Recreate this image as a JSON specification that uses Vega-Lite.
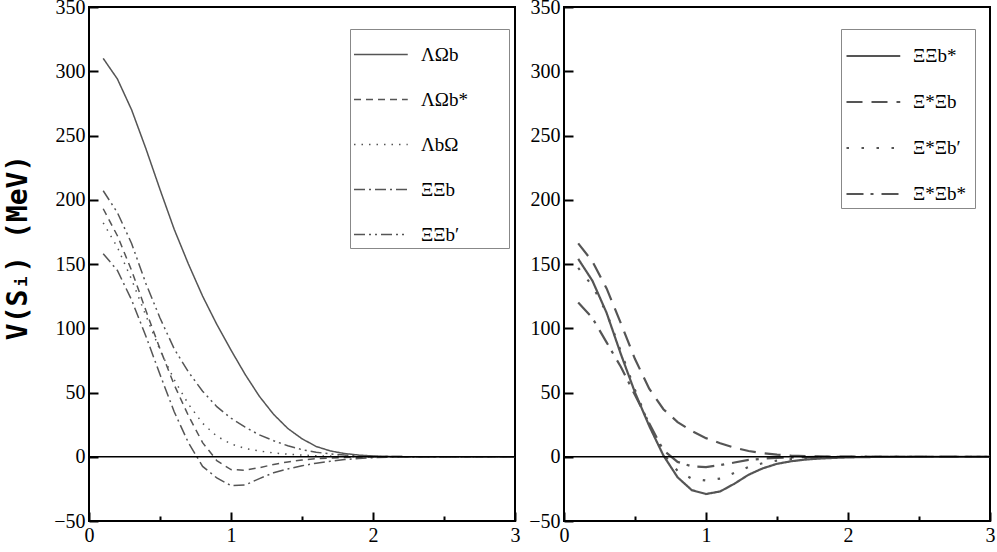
{
  "$schema": "https://vega.github.io/schema/vega-lite/v6.json",
  "padding": {"left": 3, "top": -4, "right": 5, "bottom": 5},
  "background": "white",
  "spacing": 49,
  "bounds": "flush",
  "config": {
    "view": {"stroke": "black", "strokeWidth": 2},
    "axis": {
      "domain": false, "ticks": true, "tickColor": "black", "tickWidth": 2, "tickOpacity": 1, "zindex": 1,
      "tickSize": 9, "offset": -9, "labelPadding": 4,
      "labelFont": "Liberation Serif", "labelFontSize": 20, "labelColor": "black",
      "grid": false, "labelOverlap": false, "labelFlush": false, "labelBound": false
    }
  },
  "datasets": {
    "left": [
      {"s":"ΛΩb","x":0.1,"v":310},{"s":"ΛΩb","x":0.2,"v":294},{"s":"ΛΩb","x":0.3,"v":270},{"s":"ΛΩb","x":0.4,"v":240},{"s":"ΛΩb","x":0.5,"v":208},{"s":"ΛΩb","x":0.6,"v":177},{"s":"ΛΩb","x":0.7,"v":150},{"s":"ΛΩb","x":0.8,"v":125},{"s":"ΛΩb","x":0.9,"v":103},{"s":"ΛΩb","x":1.0,"v":83},{"s":"ΛΩb","x":1.1,"v":64},{"s":"ΛΩb","x":1.2,"v":47},{"s":"ΛΩb","x":1.3,"v":33},{"s":"ΛΩb","x":1.4,"v":22},{"s":"ΛΩb","x":1.5,"v":14},{"s":"ΛΩb","x":1.6,"v":8},{"s":"ΛΩb","x":1.7,"v":4.5},{"s":"ΛΩb","x":1.8,"v":2.5},{"s":"ΛΩb","x":1.9,"v":1.3},{"s":"ΛΩb","x":2.0,"v":0.6},{"s":"ΛΩb","x":2.1,"v":0.3},{"s":"ΛΩb","x":2.2,"v":0.1},{"s":"ΛΩb","x":2.5,"v":0},{"s":"ΛΩb","x":3.0,"v":0},
      {"s":"ΛΩb*","x":0.1,"v":193},{"s":"ΛΩb*","x":0.2,"v":172},{"s":"ΛΩb*","x":0.3,"v":145},{"s":"ΛΩb*","x":0.4,"v":114},{"s":"ΛΩb*","x":0.5,"v":84},{"s":"ΛΩb*","x":0.6,"v":56},{"s":"ΛΩb*","x":0.7,"v":32},{"s":"ΛΩb*","x":0.8,"v":11},{"s":"ΛΩb*","x":0.9,"v":-3},{"s":"ΛΩb*","x":1.0,"v":-10},{"s":"ΛΩb*","x":1.1,"v":-10.5},{"s":"ΛΩb*","x":1.2,"v":-8.5},{"s":"ΛΩb*","x":1.3,"v":-6},{"s":"ΛΩb*","x":1.4,"v":-4},{"s":"ΛΩb*","x":1.5,"v":-2.5},{"s":"ΛΩb*","x":1.6,"v":-1.5},{"s":"ΛΩb*","x":1.7,"v":-1},{"s":"ΛΩb*","x":1.8,"v":-0.5},{"s":"ΛΩb*","x":1.9,"v":-0.3},{"s":"ΛΩb*","x":2.0,"v":-0.1},{"s":"ΛΩb*","x":2.2,"v":0},{"s":"ΛΩb*","x":2.5,"v":0},{"s":"ΛΩb*","x":3.0,"v":0},
      {"s":"ΛbΩ","x":0.1,"v":182},{"s":"ΛbΩ","x":0.2,"v":163},{"s":"ΛbΩ","x":0.3,"v":138},{"s":"ΛbΩ","x":0.4,"v":110},{"s":"ΛbΩ","x":0.5,"v":83},{"s":"ΛbΩ","x":0.6,"v":60},{"s":"ΛbΩ","x":0.7,"v":41},{"s":"ΛbΩ","x":0.8,"v":26},{"s":"ΛbΩ","x":0.9,"v":16},{"s":"ΛbΩ","x":1.0,"v":10},{"s":"ΛbΩ","x":1.1,"v":6.5},{"s":"ΛbΩ","x":1.2,"v":4.5},{"s":"ΛbΩ","x":1.3,"v":3},{"s":"ΛbΩ","x":1.4,"v":2},{"s":"ΛbΩ","x":1.5,"v":1.3},{"s":"ΛbΩ","x":1.6,"v":0.8},{"s":"ΛbΩ","x":1.7,"v":0.5},{"s":"ΛbΩ","x":1.8,"v":0.3},{"s":"ΛbΩ","x":1.9,"v":0.2},{"s":"ΛbΩ","x":2.0,"v":0.1},{"s":"ΛbΩ","x":2.2,"v":0},{"s":"ΛbΩ","x":2.5,"v":0},{"s":"ΛbΩ","x":3.0,"v":0},
      {"s":"ΞΞb","x":0.1,"v":158},{"s":"ΞΞb","x":0.2,"v":145},{"s":"ΞΞb","x":0.3,"v":122},{"s":"ΞΞb","x":0.4,"v":94},{"s":"ΞΞb","x":0.5,"v":64},{"s":"ΞΞb","x":0.6,"v":35},{"s":"ΞΞb","x":0.7,"v":11},{"s":"ΞΞb","x":0.8,"v":-7.5},{"s":"ΞΞb","x":0.9,"v":-16.5},{"s":"ΞΞb","x":1.0,"v":-22.5},{"s":"ΞΞb","x":1.1,"v":-22},{"s":"ΞΞb","x":1.2,"v":-17},{"s":"ΞΞb","x":1.3,"v":-12.5},{"s":"ΞΞb","x":1.4,"v":-9.5},{"s":"ΞΞb","x":1.5,"v":-7},{"s":"ΞΞb","x":1.6,"v":-5},{"s":"ΞΞb","x":1.7,"v":-3.5},{"s":"ΞΞb","x":1.8,"v":-2.2},{"s":"ΞΞb","x":1.9,"v":-1.3},{"s":"ΞΞb","x":2.0,"v":-0.7},{"s":"ΞΞb","x":2.1,"v":-0.3},{"s":"ΞΞb","x":2.2,"v":-0.1},{"s":"ΞΞb","x":2.5,"v":0},{"s":"ΞΞb","x":3.0,"v":0},
      {"s":"ΞΞb′","x":0.1,"v":207},{"s":"ΞΞb′","x":0.2,"v":190},{"s":"ΞΞb′","x":0.3,"v":166},{"s":"ΞΞb′","x":0.4,"v":135},{"s":"ΞΞb′","x":0.5,"v":108},{"s":"ΞΞb′","x":0.6,"v":84},{"s":"ΞΞb′","x":0.7,"v":66},{"s":"ΞΞb′","x":0.8,"v":51},{"s":"ΞΞb′","x":0.9,"v":39},{"s":"ΞΞb′","x":1.0,"v":30},{"s":"ΞΞb′","x":1.1,"v":23},{"s":"ΞΞb′","x":1.2,"v":17},{"s":"ΞΞb′","x":1.3,"v":12.5},{"s":"ΞΞb′","x":1.4,"v":8.5},{"s":"ΞΞb′","x":1.5,"v":5.5},{"s":"ΞΞb′","x":1.6,"v":3.5},{"s":"ΞΞb′","x":1.7,"v":2.2},{"s":"ΞΞb′","x":1.8,"v":1.3},{"s":"ΞΞb′","x":1.9,"v":0.7},{"s":"ΞΞb′","x":2.0,"v":0.3},{"s":"ΞΞb′","x":2.2,"v":0.1},{"s":"ΞΞb′","x":2.5,"v":0},{"s":"ΞΞb′","x":3.0,"v":0}
    ],
    "right": [
      {"s":"ΞΞb*","x":0.1,"v":154},{"s":"ΞΞb*","x":0.2,"v":137},{"s":"ΞΞb*","x":0.3,"v":112},{"s":"ΞΞb*","x":0.4,"v":80},{"s":"ΞΞb*","x":0.5,"v":50},{"s":"ΞΞb*","x":0.6,"v":24},{"s":"ΞΞb*","x":0.7,"v":1},{"s":"ΞΞb*","x":0.8,"v":-16},{"s":"ΞΞb*","x":0.9,"v":-26},{"s":"ΞΞb*","x":1.0,"v":-29},{"s":"ΞΞb*","x":1.1,"v":-27},{"s":"ΞΞb*","x":1.2,"v":-21},{"s":"ΞΞb*","x":1.3,"v":-14},{"s":"ΞΞb*","x":1.4,"v":-9},{"s":"ΞΞb*","x":1.5,"v":-5.5},{"s":"ΞΞb*","x":1.6,"v":-3.5},{"s":"ΞΞb*","x":1.7,"v":-2.2},{"s":"ΞΞb*","x":1.8,"v":-1.4},{"s":"ΞΞb*","x":1.9,"v":-0.9},{"s":"ΞΞb*","x":2.0,"v":-0.5},{"s":"ΞΞb*","x":2.1,"v":-0.3},{"s":"ΞΞb*","x":2.2,"v":-0.15},{"s":"ΞΞb*","x":2.5,"v":0},{"s":"ΞΞb*","x":3.0,"v":0},
      {"s":"Ξ*Ξb","x":0.1,"v":166},{"s":"Ξ*Ξb","x":0.2,"v":152},{"s":"Ξ*Ξb","x":0.3,"v":131},{"s":"Ξ*Ξb","x":0.4,"v":104},{"s":"Ξ*Ξb","x":0.5,"v":76},{"s":"Ξ*Ξb","x":0.6,"v":53},{"s":"Ξ*Ξb","x":0.7,"v":37},{"s":"Ξ*Ξb","x":0.8,"v":27},{"s":"Ξ*Ξb","x":0.9,"v":20},{"s":"Ξ*Ξb","x":1.0,"v":14.5},{"s":"Ξ*Ξb","x":1.1,"v":10.5},{"s":"Ξ*Ξb","x":1.2,"v":7},{"s":"Ξ*Ξb","x":1.3,"v":4.5},{"s":"Ξ*Ξb","x":1.4,"v":2.8},{"s":"Ξ*Ξb","x":1.5,"v":1.6},{"s":"Ξ*Ξb","x":1.6,"v":0.9},{"s":"Ξ*Ξb","x":1.7,"v":0.5},{"s":"Ξ*Ξb","x":1.8,"v":0.3},{"s":"Ξ*Ξb","x":1.9,"v":0.15},{"s":"Ξ*Ξb","x":2.0,"v":0.1},{"s":"Ξ*Ξb","x":2.2,"v":0},{"s":"Ξ*Ξb","x":2.5,"v":0},{"s":"Ξ*Ξb","x":3.0,"v":0},
      {"s":"Ξ*Ξb′","x":0.1,"v":147},{"s":"Ξ*Ξb′","x":0.2,"v":133},{"s":"Ξ*Ξb′","x":0.3,"v":112},{"s":"Ξ*Ξb′","x":0.4,"v":82},{"s":"Ξ*Ξb′","x":0.5,"v":52},{"s":"Ξ*Ξb′","x":0.6,"v":25},{"s":"Ξ*Ξb′","x":0.7,"v":2},{"s":"Ξ*Ξb′","x":0.8,"v":-11},{"s":"Ξ*Ξb′","x":0.9,"v":-17},{"s":"Ξ*Ξb′","x":1.0,"v":-18.5},{"s":"Ξ*Ξb′","x":1.1,"v":-17},{"s":"Ξ*Ξb′","x":1.2,"v":-12.5},{"s":"Ξ*Ξb′","x":1.3,"v":-8},{"s":"Ξ*Ξb′","x":1.4,"v":-5},{"s":"Ξ*Ξb′","x":1.5,"v":-3},{"s":"Ξ*Ξb′","x":1.6,"v":-1.8},{"s":"Ξ*Ξb′","x":1.7,"v":-1.1},{"s":"Ξ*Ξb′","x":1.8,"v":-0.7},{"s":"Ξ*Ξb′","x":1.9,"v":-0.4},{"s":"Ξ*Ξb′","x":2.0,"v":-0.2},{"s":"Ξ*Ξb′","x":2.2,"v":0},{"s":"Ξ*Ξb′","x":2.5,"v":0},{"s":"Ξ*Ξb′","x":3.0,"v":0},
      {"s":"Ξ*Ξb*","x":0.1,"v":120},{"s":"Ξ*Ξb*","x":0.2,"v":108},{"s":"Ξ*Ξb*","x":0.3,"v":89},{"s":"Ξ*Ξb*","x":0.4,"v":70},{"s":"Ξ*Ξb*","x":0.5,"v":48},{"s":"Ξ*Ξb*","x":0.6,"v":26},{"s":"Ξ*Ξb*","x":0.7,"v":5},{"s":"Ξ*Ξb*","x":0.8,"v":-4},{"s":"Ξ*Ξb*","x":0.9,"v":-7.5},{"s":"Ξ*Ξb*","x":1.0,"v":-8},{"s":"Ξ*Ξb*","x":1.1,"v":-6.5},{"s":"Ξ*Ξb*","x":1.2,"v":-4.5},{"s":"Ξ*Ξb*","x":1.3,"v":-2.5},{"s":"Ξ*Ξb*","x":1.4,"v":-1.5},{"s":"Ξ*Ξb*","x":1.5,"v":-0.9},{"s":"Ξ*Ξb*","x":1.6,"v":-0.5},{"s":"Ξ*Ξb*","x":1.7,"v":-0.3},{"s":"Ξ*Ξb*","x":1.8,"v":-0.15},{"s":"Ξ*Ξb*","x":1.9,"v":-0.1},{"s":"Ξ*Ξb*","x":2.0,"v":0},{"s":"Ξ*Ξb*","x":2.5,"v":0},{"s":"Ξ*Ξb*","x":3.0,"v":0}
    ]
  },
  "resolve": {"scale": {"strokeDash": "independent"}, "legend": {"strokeDash": "independent"}},
  "hconcat": [
    {
      "width": 426, "height": 514,
      "layer": [
        {
          "data": {"name": "left"},
          "mark": {"type": "line", "color": "#555", "strokeWidth": 1.5},
          "encoding": {
            "x": {"field": "x", "type": "quantitative", "scale": {"domain": [0, 3], "nice": false},
              "axis": {"title": null, "values": [0, 0.5, 1, 1.5, 2, 2.5, 3], "labelExpr": "datum.value % 1 === 0 ? format(datum.value, 'd') : ''",
                "tickDash": {"condition": {"test": "datum.value % 1 === 0", "value": [9, 0]}, "value": [0, 4, 5, 100]}}},
            "y": {"field": "v", "type": "quantitative", "scale": {"domain": [-50, 350], "nice": false},
              "axis": {"title": "V(Sᵢ) (MeV)", "titleFont": "DejaVu Sans Mono", "titleFontWeight": "bold", "titleFontSize": 28, "titleColor": "black", "titlePadding": 21, "titleY": 240,
                "values": [-50, -25, 0, 25, 50, 75, 100, 125, 150, 175, 200, 225, 250, 275, 300, 325, 350],
                "labelExpr": "datum.value % 50 === 0 ? datum.label : ''",
                "tickDash": {"condition": {"test": "datum.value % 50 === 0", "value": [9, 0]}, "value": [0, 4, 5, 100]}}},
            "strokeDash": {"field": "s", "type": "nominal",
              "scale": {"domain": ["ΛΩb", "ΛΩb*", "ΛbΩ", "ΞΞb", "ΞΞb′"], "range": [[1, 0], [7, 5], [1.5, 6], [11, 4, 2, 4], [11, 4, 2, 4, 2, 4]]},
              "legend": {"orient": "none", "legendX": 261, "legendY": 22, "title": null, "padding": 3, "strokeColor": "#888", "fillColor": "white",
                "symbolType": "M-1,0H1.5", "symbolSize": 1849, "symbolStrokeColor": "#555", "symbolStrokeWidth": 1.5, "symbolFillColor": "transparent",
                "labelFont": "Liberation Serif", "labelFontSize": 19, "labelColor": "black", "labelOffset": 23, "rowPadding": 12,
                "labelExpr": "datum.label + '\u00a0\u00a0\u00a0\u00a0\u00a0\u00a0\u00a0\u00a0\u200b'"}},
            "order": {"field": "x", "type": "quantitative"}
          }
        },
        {
          "data": {"values": [{}]},
          "mark": {"type": "rule", "color": "black", "strokeWidth": 1.5},
          "encoding": {"y": {"datum": 0, "type": "quantitative"}}
        }
      ]
    },
    {
      "width": 426, "height": 514,
      "layer": [
        {
          "data": {"name": "right"},
          "mark": {"type": "line", "color": "#555", "strokeWidth": 2.2},
          "encoding": {
            "x": {"field": "x", "type": "quantitative", "scale": {"domain": [0, 3], "nice": false},
              "axis": {"title": null, "values": [0, 0.5, 1, 1.5, 2, 2.5, 3], "labelExpr": "datum.value % 1 === 0 ? format(datum.value, 'd') : ''",
                "tickDash": {"condition": {"test": "datum.value % 1 === 0", "value": [9, 0]}, "value": [0, 4, 5, 100]}}},
            "y": {"field": "v", "type": "quantitative", "scale": {"domain": [-50, 350], "nice": false},
              "axis": {"title": null,
                "values": [-50, -25, 0, 25, 50, 75, 100, 125, 150, 175, 200, 225, 250, 275, 300, 325, 350],
                "labelExpr": "datum.value % 50 === 0 ? datum.label : ''",
                "tickDash": {"condition": {"test": "datum.value % 50 === 0", "value": [9, 0]}, "value": [0, 4, 5, 100]}}},
            "strokeDash": {"field": "s", "type": "nominal",
              "scale": {"domain": ["ΞΞb*", "Ξ*Ξb", "Ξ*Ξb′", "Ξ*Ξb*"], "range": [[1, 0], [16, 9], [2.5, 12.5], [17, 7, 3, 8]]},
              "legend": {"orient": "none", "legendX": 277, "legendY": 22, "title": null, "padding": 4, "strokeColor": "#888", "fillColor": "white",
                "symbolType": "M-1,0H1.5", "symbolSize": 1849, "symbolStrokeColor": "#555", "symbolStrokeWidth": 2.2, "symbolFillColor": "transparent",
                "labelFont": "Liberation Serif", "labelFontSize": 19, "labelColor": "black", "labelOffset": 22, "rowPadding": 13,
                "labelExpr": "datum.label + '\u00a0\u200b'"}},
            "order": {"field": "x", "type": "quantitative"}
          }
        },
        {
          "data": {"values": [{}]},
          "mark": {"type": "rule", "color": "black", "strokeWidth": 1.5},
          "encoding": {"y": {"datum": 0, "type": "quantitative"}}
        }
      ]
    }
  ]
}
